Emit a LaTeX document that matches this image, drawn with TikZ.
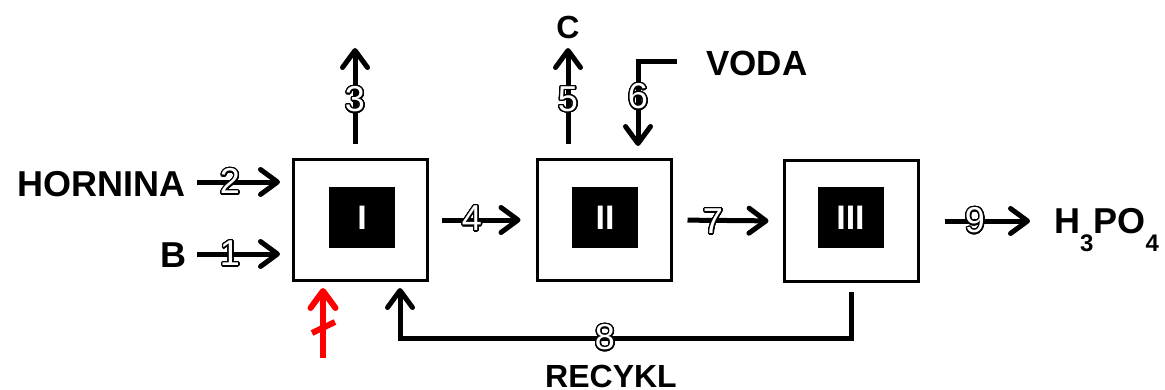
\documentclass[tikz,border=0pt]{standalone}
\usepackage{fontspec}
\setmainfont{Liberation Sans}
\usepackage{contour}
\contourlength{1.3pt}
\contournumber{32}
\usetikzlibrary{arrows.meta}
\begin{document}
\begin{tikzpicture}[x=1pt,y=-1pt,
  box/.style={draw=black,line width=3pt,minimum width=134pt,minimum height=121pt,inner sep=0pt,fill=white},
  core/.style={fill=black,minimum width=66pt,minimum height=61pt,inner sep=0pt,text=white,font=\fontsize{34}{34}\selectfont\bfseries},
  flow/.style={line width=5pt,-{Straight Barb[length=17pt,width=25pt,round]}},
  num/.style={font=\fontsize{36}{36}\selectfont,inner sep=0pt,text=white},
  lbl/.style={font=\fontsize{36}{36}\selectfont\bfseries,inner sep=0pt}]
\useasboundingbox (0,0) rectangle (1165,389);
% boxes
\node[box] (b1) at (360.5,220) {};
\node[box] (b2) at (604,220) {};
\node[box] (b3) at (851,221) {};
\node[core] (c1) at (362,217.5) {I};
\node[core] (c2) at (605,217.5) {II};
\node[core] (c3) at (850.5,217.5) {III};
% texts
\node[lbl,anchor=base east] (hornina) at (186,196) {HORNINA};
\node[lbl,anchor=base east] (bb) at (187,267) {B};
\node[lbl,font=\fontsize{32}{32}\selectfont\bfseries] (cc) at (568,27) {C};
\node[lbl,font=\fontsize{35}{35}\selectfont\bfseries,anchor=base west] (voda) at (706,75) {VODA};
\node[lbl,anchor=base west] (h3po4) at (1054,233) {H\raisebox{-0.5em}{\fontsize{24}{24}\selectfont 3}PO\raisebox{-0.5em}{\fontsize{24}{24}\selectfont 4}};
\node[lbl,font=\fontsize{32}{32}\selectfont\bfseries,anchor=base] (recykl) at (611,387) {RECYKL};
% coordinates
\coordinate (s2) at (197,182);
\coordinate (s1) at (197,254);
\coordinate (t3) at (355,48);
\coordinate (t5) at (568,48);
\coordinate (w6) at (677,61);
\coordinate (e9) at (1030,221);
\coordinate (r8) at (851,338);
\coordinate (red0) at (323,358);
% connectors
\draw[flow,shorten >=12pt] (s2) -- (s2 -| b1.west);
\draw[flow,shorten >=12pt] (s1) -- (s1 -| b1.west);
\draw[flow,shorten <=14pt] (t3 |- b1.north) -- (t3);
\draw[flow,shorten <=14pt] (t5 |- b2.north) -- (t5);
\draw[flow,shorten >=12pt] (w6) -| ([xshift=34pt]b2.north);
\draw[flow,shorten <=13pt,shorten >=15pt] (b1.east) -- (b2.west);
\draw[flow,shorten <=15pt,shorten >=14pt] (b2.east) -- (b3.west);
\draw[flow,shorten <=25pt] (b3.east) -- (e9);
\draw[flow,shorten <=9pt,shorten >=6pt] (b3.south) -- (r8) -| ([xshift=39.5pt]b1.south);
\draw[flow,red,line width=6pt,shorten >=6pt] (red0) -- (red0 |- b1.south);
\draw[red,line width=6pt] (312,333) -- (335,322);
% stream numbers
\node[num] (n2) at (230,182) {\contour{black}{2}};
\node[num] (n1) at (230,254) {\contour{black}{1}};
\node[num] (n3) at (355,100) {\contour{black}{3}};
\node[num] (n5) at (568,100) {\contour{black}{5}};
\node[num] (n6) at (638,97) {\contour{black}{6}};
\node[num] (n4) at (472,219) {\contour{black}{4}};
\node[num] (n7) at (713,222) {\contour{black}{7}};
\node[num] (n9) at (975,221) {\contour{black}{9}};
\node[num] (n8) at (605,338) {\contour{black}{8}};
\end{tikzpicture}
\end{document}
